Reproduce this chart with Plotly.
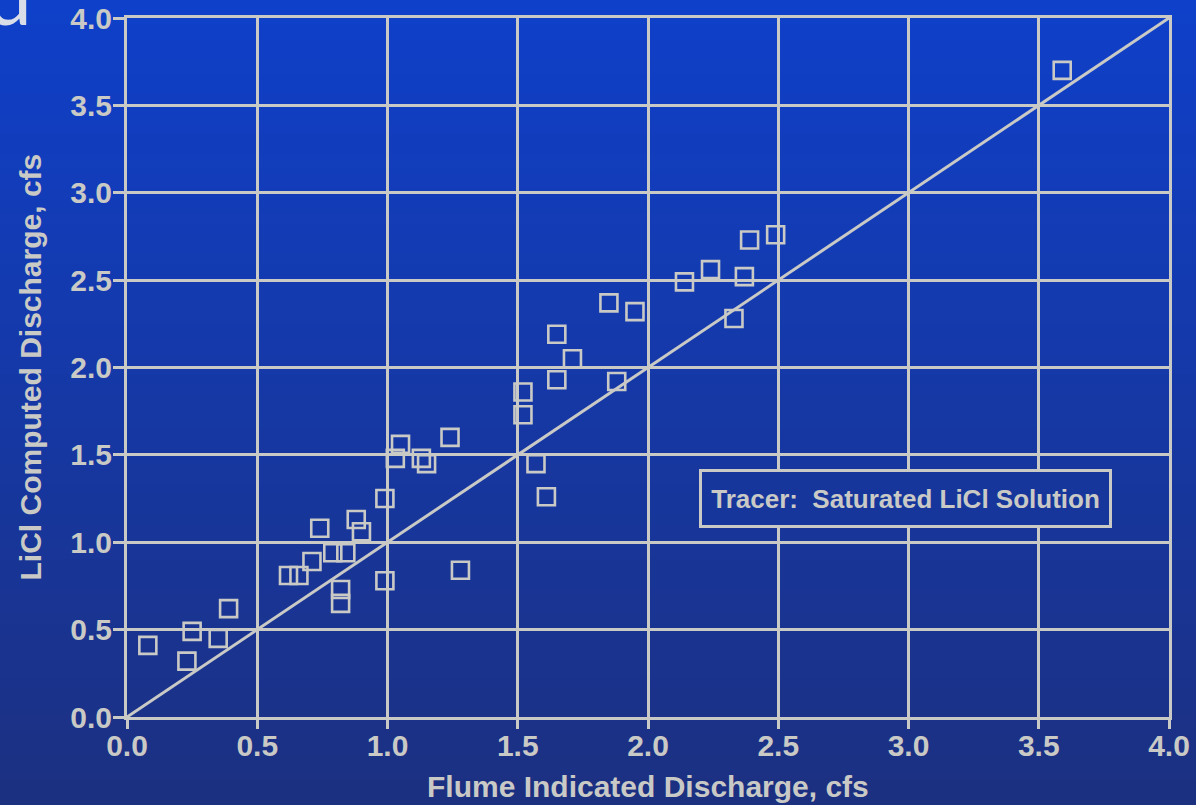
import plotly.graph_objects as go

# ---- data ----
flume_x = [0.08, 0.23, 0.25, 0.35, 0.39, 0.62, 0.66, 0.71, 0.74, 0.79,
           0.84, 0.82, 0.82, 0.88, 0.90, 0.99, 0.99, 1.05, 1.03, 1.13,
           1.15, 1.24, 1.28, 1.52, 1.52, 1.57, 1.61, 1.65, 1.65, 1.71,
           1.85, 1.95, 1.88, 2.14, 2.24, 2.37, 2.33, 2.39, 2.49, 3.59]
licl_y = [0.41, 0.32, 0.49, 0.45, 0.62, 0.81, 0.81, 0.89, 1.08, 0.94,
          0.94, 0.73, 0.65, 1.13, 1.06, 1.25, 0.78, 1.56, 1.48, 1.48,
          1.45, 1.60, 0.84, 1.86, 1.73, 1.45, 1.26, 2.19, 1.93, 2.05,
          2.37, 2.32, 1.92, 2.49, 2.56, 2.52, 2.28, 2.73, 2.76, 3.70]
equal_x = [0.0, 4.0]
equal_y = [0.0, 4.0]
tick_vals = [0.0, 0.5, 1.0, 1.5, 2.0, 2.5, 3.0, 3.5, 4.0]
tick_text = ["0.0", "0.5", "1.0", "1.5", "2.0", "2.5", "3.0", "3.5", "4.0"]
x_title = "Flume Indicated Discharge, cfs"
y_title = "LiCl Computed Discharge, cfs"
legend_text = "Tracer:&nbsp; Saturated LiCl Solution"

# ---- style ----
W, H = 1196, 805
ML, MR, MT, MB = 127, 27, 18, 88
PW, PH = W - ML - MR, H - MT - MB
GRAY = "#C9C9C6"
TOP = (15, 64, 202)
BOT = (28, 48, 128)
FONT = "Liberation Sans, Arial"


def grad(py):
    t = py / H
    return "rgb(%d,%d,%d)" % tuple(round(a + (b - a) * t) for a, b in zip(TOP, BOT))


def px_to_paper_x(px):
    return (px - ML) / PW


def px_to_paper_y(py):
    return (H - MB - py) / PH


fig = go.Figure()

fig.add_trace(go.Scatter(x=equal_x, y=equal_y, mode="lines",
                         line=dict(color=GRAY, width=3), hoverinfo="skip",
                         showlegend=False))
fig.add_trace(go.Scatter(x=flume_x, y=licl_y, mode="markers",
                         marker=dict(symbol="square-open", size=17, color=GRAY,
                                     line=dict(width=2.6, color=GRAY)),
                         showlegend=False))

# vertical gradient background built from thin bands
shapes = []
N = 161
band = H / N
for i in range(N):
    y0 = i * band - 1
    y1 = (i + 1) * band + 0.8
    shapes.append(dict(type="rect", xref="paper", yref="paper", layer="below",
                       x0=px_to_paper_x(-2), x1=px_to_paper_x(W + 2),
                       y0=px_to_paper_y(y1), y1=px_to_paper_y(y0),
                       line=dict(width=0), fillcolor=grad((y0 + y1) / 2)))

axis_common = dict(range=[0, 4], tickvals=tick_vals, ticktext=tick_text,
                   showgrid=True, gridcolor=GRAY, gridwidth=3,
                   showline=True, linecolor=GRAY, linewidth=3, mirror=True,
                   ticks="outside", tickwidth=3, tickcolor=GRAY,
                   zeroline=False, fixedrange=True, ticklabeloverflow="allow",
                   automargin=False,
                   tickfont=dict(family=FONT, size=30, color=GRAY, weight="bold"))

xaxis = dict(axis_common, ticklen=9, ticklabelstandoff=-9)
yaxis = dict(axis_common, ticklen=11, ticklabelstandoff=-5)

fig.update_layout(
    width=W, height=H,
    margin=dict(l=ML, r=MR, t=MT, b=MB, autoexpand=False),
    paper_bgcolor=grad(H / 2),
    plot_bgcolor="rgba(0,0,0,0)",
    xaxis=xaxis,
    yaxis=yaxis,
    shapes=shapes,
    showlegend=False,
    annotations=[
        dict(text=x_title, xref="paper", yref="paper", x=0.5,
             y=px_to_paper_y(786), xanchor="center", yanchor="middle",
             showarrow=False,
             font=dict(family=FONT, size=30, color=GRAY, weight="bold")),
        dict(text=y_title, xref="paper", yref="paper", x=px_to_paper_x(30),
             y=0.5, xanchor="center", yanchor="middle", textangle=-90,
             showarrow=False,
             font=dict(family=FONT, size=30, color=GRAY, weight="bold")),
        dict(text=legend_text, xref="paper", yref="paper",
             x=px_to_paper_x(905), y=px_to_paper_y(498.5),
             xanchor="center", yanchor="middle", showarrow=False,
             width=407, height=53, align="center", valign="middle",
             bgcolor=grad(498), bordercolor=GRAY, borderwidth=3,
             borderpad=0,
             font=dict(family=FONT, size=26, color=GRAY, weight="bold")),
        dict(text="d", xref="paper", yref="paper", x=px_to_paper_x(34),
             y=px_to_paper_y(44), xanchor="right", yanchor="bottom",
             showarrow=False,
             font=dict(family="Lato", size=80, color="#D9DDE8")),
    ],
)

fig.write_html(
    "out.html",
    config={"displayModeBar": False},
    post_script="document.body.style.margin='0';"
                "document.body.style.overflow='hidden';"
                "document.body.style.background='" + grad(H) + "';",
)
